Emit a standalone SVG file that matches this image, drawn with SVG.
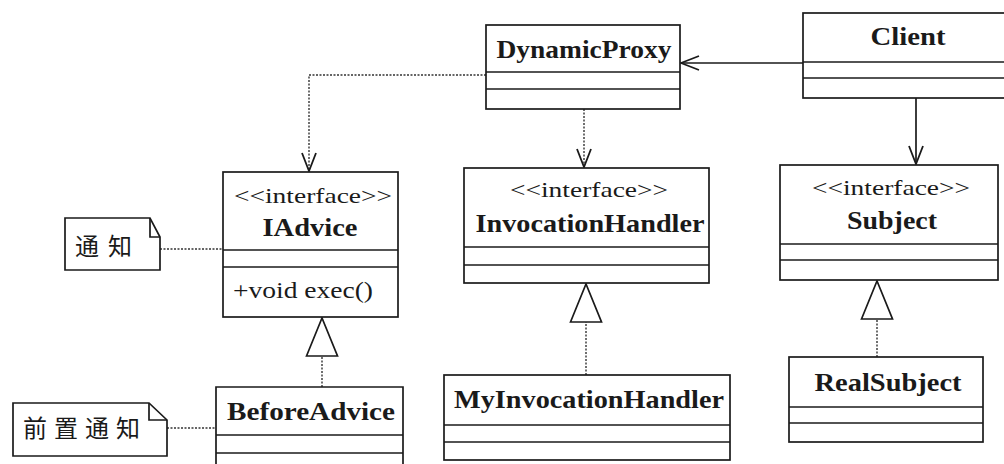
<svg xmlns="http://www.w3.org/2000/svg" width="1004" height="464" viewBox="0 0 1004 464">
<style>
.box{fill:#fff;stroke:#1a1a1a;stroke-width:1.7}
.div{stroke:#1a1a1a;stroke-width:1.7}
.name{font-family:"Liberation Serif","Times New Roman",serif;font-weight:bold;font-size:25px;fill:#1a1a1a;text-anchor:middle}
.ster{font-family:"Liberation Serif","Times New Roman",serif;font-size:22px;fill:#1a1a1a;text-anchor:middle}
.meth{font-family:"Liberation Serif","Times New Roman",serif;font-size:24px;fill:#1a1a1a}
.cn{font-family:"Liberation Serif","Noto Sans CJK SC",serif;font-size:24px;fill:#1a1a1a}
.solid{fill:none;stroke:#1a1a1a;stroke-width:1.7}
.dash{fill:none;stroke:#333;stroke-width:1.4;stroke-dasharray:2 1.5}
</style>
<defs>
<marker id="open" viewBox="0 0 20 16" refX="19" refY="8" markerWidth="20" markerHeight="16" markerUnits="userSpaceOnUse" orient="auto">
<path d="M1,1 L19,8 L1,15" fill="none" stroke="#1a1a1a" stroke-width="1.8"/>
</marker>
<marker id="tri" viewBox="0 0 40 34" refX="39" refY="17" markerWidth="40" markerHeight="34" markerUnits="userSpaceOnUse" orient="auto">
<path d="M1,1.5 L39,17 L1,32.5 Z" fill="#fff" stroke="#1a1a1a" stroke-width="1.7"/>
</marker>
</defs>

<g id="connectors">
<path class="solid" d="M803,63 H681" marker-end="url(#open)"/>
<path class="solid" d="M916,98 V164" marker-end="url(#open)"/>
<path class="dash" d="M584,109 V167" marker-end="url(#open)"/>
<path class="dash" d="M486,75 H309 V171" marker-end="url(#open)"/>
<path class="dash" d="M586,375 V284" marker-end="url(#tri)"/>
<path class="dash" d="M877,357 V281" marker-end="url(#tri)"/>
<path class="dash" d="M322,387 V318" marker-end="url(#tri)"/>
<path class="dash" d="M160,249 H223"/>
<path class="dash" d="M167,428 H216"/>
</g>

<g id="DynamicProxy">
<rect class="box" x="486" y="25" width="194" height="84"/>
<line class="div" x1="486" y1="72" x2="680" y2="72"/>
<line class="div" x1="486" y1="89" x2="680" y2="89"/>
<text class="name" x="584" y="58" textLength="175" lengthAdjust="spacingAndGlyphs">DynamicProxy</text>
</g>

<g id="Client">
<rect class="box" x="803" y="13" width="210" height="85"/>
<line class="div" x1="803" y1="62" x2="1013" y2="62"/>
<line class="div" x1="803" y1="78" x2="1013" y2="78"/>
<text class="name" x="908" y="45" textLength="75" lengthAdjust="spacingAndGlyphs">Client</text>
</g>

<g id="IAdvice">
<rect class="box" x="223" y="172" width="175" height="145"/>
<line class="div" x1="223" y1="250" x2="398" y2="250"/>
<line class="div" x1="223" y1="267" x2="398" y2="267"/>
<text class="ster" x="313" y="203" textLength="158" lengthAdjust="spacingAndGlyphs">&lt;&lt;interface&gt;&gt;</text>
<text class="name" x="310" y="236" textLength="95" lengthAdjust="spacingAndGlyphs">IAdvice</text>
<text class="meth" x="233" y="298" textLength="140" lengthAdjust="spacingAndGlyphs">+void exec()</text>
</g>

<g id="InvocationHandler">
<rect class="box" x="464" y="168" width="245" height="115"/>
<line class="div" x1="464" y1="247" x2="709" y2="247"/>
<line class="div" x1="464" y1="265" x2="709" y2="265"/>
<text class="ster" x="589" y="197" textLength="158" lengthAdjust="spacingAndGlyphs">&lt;&lt;interface&gt;&gt;</text>
<text class="name" x="590" y="232" textLength="229" lengthAdjust="spacingAndGlyphs">InvocationHandler</text>
</g>

<g id="Subject">
<rect class="box" x="780" y="165" width="218" height="115"/>
<line class="div" x1="780" y1="244" x2="998" y2="244"/>
<line class="div" x1="780" y1="260" x2="998" y2="260"/>
<text class="ster" x="891" y="195" textLength="158" lengthAdjust="spacingAndGlyphs">&lt;&lt;interface&gt;&gt;</text>
<text class="name" x="892" y="229" textLength="90" lengthAdjust="spacingAndGlyphs">Subject</text>
</g>

<g id="BeforeAdvice">
<path class="box" d="M216,470 V387 H403 V470"/>
<line class="div" x1="216" y1="435" x2="403" y2="435"/>
<line class="div" x1="216" y1="453" x2="403" y2="453"/>
<text class="name" x="311" y="420" textLength="168" lengthAdjust="spacingAndGlyphs">BeforeAdvice</text>
</g>

<g id="MyInvocationHandler">
<rect class="box" x="444" y="375" width="286" height="85"/>
<line class="div" x1="444" y1="425" x2="730" y2="425"/>
<line class="div" x1="444" y1="442" x2="730" y2="442"/>
<text class="name" x="589" y="408" textLength="270" lengthAdjust="spacingAndGlyphs">MyInvocationHandler</text>
</g>

<g id="RealSubject">
<rect class="box" x="789" y="357" width="194" height="85"/>
<line class="div" x1="789" y1="407" x2="983" y2="407"/>
<line class="div" x1="789" y1="423" x2="983" y2="423"/>
<text class="name" x="888" y="391" textLength="147" lengthAdjust="spacingAndGlyphs">RealSubject</text>
</g>

<g id="note-tongzhi">
<path class="box" d="M65,218 H150 L160,237 V270 H65 Z"/>
<path class="solid" d="M150,218 V237 H160"/>
<text class="cn" x="75" y="255" textLength="57" lengthAdjust="spacing">通知</text>
</g>

<g id="note-qianzhi">
<path class="box" d="M13,403 H149 L167,420 V456 H13 Z"/>
<path class="solid" d="M149,403 V420 H167"/>
<text class="cn" x="23" y="437" textLength="117" lengthAdjust="spacing">前置通知</text>
</g>
</svg>
